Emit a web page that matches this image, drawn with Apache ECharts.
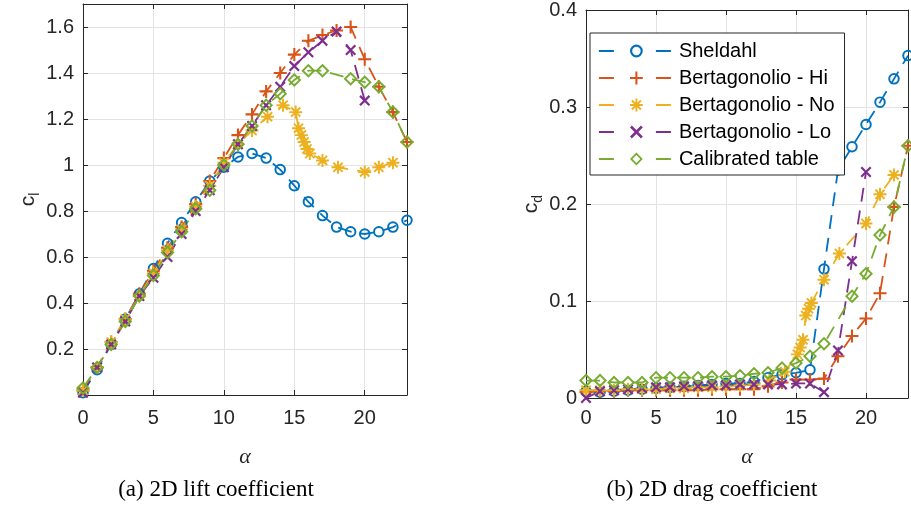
<!DOCTYPE html>
<html>
<head>
<meta charset="utf-8">
<script src="https://cdn.jsdelivr.net/npm/echarts@6/dist/echarts.min.js"></script>
<style>html,body{margin:0;padding:0;background:#fff;}#c{width:911px;height:508px;}</style>
</head>
<body>
<div id="c"></div>
<script>
// ---- data ----
const seriesNames = ['Sheldahl', 'Bertagonolio - Hi', 'Bertagonolio - No', 'Bertagonolio - Lo', 'Calibrated table'];
const alphaFull = [0,1,2,3,4,5,6,7,8,9,10,11,12,13,14,15,16,17,18,19,20,21,22,23];
const alphaLo = [0,1,2,3,4,5,6,7,8,9,10,11,12,13,14,15,16,17,18,19,20];
const alphaNo = [0,1,2,3,4,5,6,7,8,9,10,11,12,13.1,14.2,15.1,15.3,15.5,15.7,15.9,16.1,17,18.1,20,21,22];
const alphaCal = [0,1,2,3,4,5,6,7,8,9,10,11,12,13,14,15,16,17,19,20,21,22,23];

const clSheldahl = [0.01,0.11,0.22,0.33,0.44,0.55,0.66,0.75,0.84,0.93,0.99,1.035,1.05,1.03,0.98,0.91,0.84,0.78,0.73,0.71,0.70,0.71,0.73,0.76];
const clHi = [0.02,0.12,0.23,0.33,0.44,0.54,0.64,0.73,0.83,0.93,1.03,1.13,1.22,1.32,1.40,1.48,1.54,1.565,1.585,1.60,1.46,1.34,1.23,1.10];
const clNo = [0.02,0.12,0.23,0.33,0.43,0.53,0.63,0.72,0.82,0.91,1.01,1.09,1.15,1.21,1.26,1.23,1.16,1.13,1.10,1.07,1.05,1.02,0.99,0.97,0.99,1.01];
const clLo = [0.01,0.12,0.22,0.32,0.43,0.51,0.60,0.70,0.80,0.89,0.99,1.09,1.17,1.26,1.34,1.43,1.49,1.54,1.58,1.50,1.28];
const clCal = [0.03,0.12,0.22,0.32,0.43,0.52,0.62,0.71,0.81,0.89,1.00,1.09,1.17,1.26,1.31,1.37,1.41,1.41,1.375,1.36,1.34,1.23,1.10];

const cdSheldahl = [0.007,0.006,0.007,0.008,0.009,0.010,0.011,0.012,0.013,0.014,0.015,0.015,0.017,0.021,0.024,0.026,0.029,0.133,0.235,0.259,0.282,0.305,0.329,0.353];
const cdHi = [0.006,0.007,0.007,0.008,0.008,0.008,0.008,0.008,0.008,0.009,0.009,0.009,0.009,0.012,0.016,0.019,0.019,0.020,0.043,0.064,0.082,0.108,0.197,0.260];
const cdNo = [0.008,0.008,0.008,0.009,0.009,0.009,0.010,0.010,0.011,0.011,0.012,0.013,0.014,0.018,0.027,0.045,0.052,0.060,0.085,0.092,0.098,0.122,0.149,0.180,0.210,0.230];
const cdLo = [0.000,0.007,0.008,0.009,0.010,0.011,0.011,0.012,0.012,0.013,0.013,0.014,0.014,0.014,0.014,0.015,0.015,0.006,0.049,0.141,0.233];
const cdCal = [0.018,0.018,0.016,0.016,0.016,0.021,0.021,0.021,0.021,0.022,0.022,0.023,0.025,0.026,0.031,0.036,0.043,0.056,0.105,0.128,0.168,0.197,0.260];

const xTicks = [0,5,10,15,20];
const clTicks = [0.2,0.4,0.6,0.8,1,1.2,1.4,1.6];
const cdTicks = [0,0.1,0.2,0.3,0.4];

// ---- styles ----
const colors = ['#0072BD','#D95319','#EDB120','#7E2F8E','#77AC30'];
const SYM = {
  circle: 'path://M0,10A10,10,0,1,1,20,10A10,10,0,1,1,0,10ZM3.4,10A6.6,6.6,0,1,0,16.6,10A6.6,6.6,0,1,0,3.4,10Z',
  plus: 'path://M8.4,0L11.6,0L11.6,8.4L20,8.4L20,11.6L11.6,11.6L11.6,20L8.4,20L8.4,11.6L0,11.6L0,8.4L8.4,8.4Z',
  star: 'path://M8.5,0L11.5,0L11.5,8.5L20,8.5L20,11.5L11.5,11.5L11.5,20L8.5,20L8.5,11.5L0,11.5L0,8.5L8.5,8.5Z' +
        'M4.0,1.9L18.1,16.0L16.0,18.1L1.9,4.0Z' +
        'M18.1,4.0L4.0,18.1L1.9,16.0L16.0,1.9Z',
  cross: 'path://M2.5,-0.5L20.5,17.5L17.5,20.5L-0.5,2.5ZM20.5,2.5L2.5,20.5L-0.5,17.5L17.5,-0.5Z',
  diamond: 'path://M10,0L20,10L10,20L0,10ZM10,3.9L3.9,10L10,16.1L16.1,10Z'
};
const symbols = [SYM.circle, SYM.plus, SYM.star, SYM.cross, SYM.diamond];
const symSizes = [11.5, 13, 13, 11, 14];
const axisColor = '#262626';
const gridColor = '#e3e3e3';
const tickFont = {fontFamily: 'Liberation Sans, Arial, sans-serif', fontSize: 20, color: axisColor};

function pairs(xs, ys) { return ys.map((y, i) => [xs[i], y]); }

function mkSeries(idx, xs, ys, axisIdx) {
  return {
    name: seriesNames[idx], type: 'line', xAxisIndex: axisIdx, yAxisIndex: axisIdx,
    data: pairs(xs, ys), symbol: symbols[idx], symbolSize: symSizes[idx],
    showAllSymbol: true, clip: false, animation: false, silent: true,
    lineStyle: {color: colors[idx], width: 1.8, type: [14, 9]},
    itemStyle: {color: colors[idx], borderWidth: 0},
    emphasis: {disabled: true}
  };
}

function mainX(gi, margin, nameGap) {
  return {
    type: 'value', gridIndex: gi, min: 0, max: 23, interval: 5, position: 'bottom',
    axisLine: {show: true, onZero: false, lineStyle: {color: axisColor, width: 1}},
    axisTick: {show: true, inside: true, length: 5, lineStyle: {color: axisColor}},
    splitLine: {show: true, lineStyle: {color: gridColor, width: 1}},
    axisLabel: Object.assign({margin: margin, formatter: v => xTicks.indexOf(v) >= 0 ? String(v) : ''}, tickFont),
    name: 'α', nameLocation: 'middle', nameGap: nameGap,
    nameTextStyle: {fontFamily: 'Liberation Serif, DejaVu Serif, serif', fontStyle: 'italic', fontSize: 22, color: axisColor}
  };
}
function topX(gi) {
  return {
    type: 'value', gridIndex: gi, min: 0, max: 23, interval: 5, position: 'top',
    axisLine: {show: true, onZero: false, lineStyle: {color: axisColor, width: 1}},
    axisTick: {show: true, inside: true, length: 5, lineStyle: {color: axisColor}},
    splitLine: {show: false}, axisLabel: {show: false}
  };
}
function sideY(gi, max, interval) {
  return {
    type: 'value', gridIndex: gi, min: 0, max: max, interval: interval, position: 'right',
    axisLine: {show: true, onZero: false, lineStyle: {color: axisColor, width: 1}},
    axisTick: {show: true, inside: true, length: 5, lineStyle: {color: axisColor}},
    splitLine: {show: false}, axisLabel: {show: false}
  };
}
function isTick(v, list) { return list.some(t => Math.abs(t - v) < 1e-6); }
const nameRich = {
  c: {fontFamily: 'Liberation Sans, Arial, sans-serif', fontSize: 21, color: axisColor, lineHeight: 28, verticalAlign: 'middle'},
  s: {fontFamily: 'Liberation Sans, Arial, sans-serif', fontSize: 14, color: axisColor, lineHeight: 28, verticalAlign: 'bottom'}
};

const option = {
  backgroundColor: '#fff',
  animation: false,
  grid: [
    {left: 83, top: 4, width: 324, height: 391},
    {left: 586, top: 6, width: 324, height: 392}
  ],
  xAxis: [mainX(0, 13, 51), topX(0), mainX(1, 10, 48), topX(1)],
  yAxis: [
    {
      type: 'value', gridIndex: 0, min: 0, max: 1.7, interval: 0.2, position: 'left',
      axisLine: {show: true, onZero: false, lineStyle: {color: axisColor, width: 1}},
      axisTick: {show: true, inside: true, length: 5, lineStyle: {color: axisColor}},
      splitLine: {show: true, lineStyle: {color: gridColor, width: 1}},
      axisLabel: Object.assign({margin: 9, formatter: v => isTick(v, clTicks) ? String(+v.toFixed(1)) : ''}, tickFont),
      name: '{c|c}{s|l}', nameLocation: 'middle', nameGap: 27,
      nameTextStyle: {rich: nameRich}
    },
    sideY(0, 1.7, 0.2),
    {
      type: 'value', gridIndex: 1, min: 0, max: 0.4, interval: 0.1, position: 'left',
      axisLine: {show: true, onZero: false, lineStyle: {color: axisColor, width: 1}},
      axisTick: {show: true, inside: true, length: 5, lineStyle: {color: axisColor}},
      splitLine: {show: true, lineStyle: {color: gridColor, width: 1}},
      axisLabel: Object.assign({margin: 9, formatter: v => isTick(v, cdTicks) ? String(+v.toFixed(1)) : ''}, tickFont),
      name: '{c|c}{s|d}', nameLocation: 'middle', nameGap: 25,
      nameTextStyle: {rich: nameRich}
    },
    sideY(1, 0.4, 0.1)
  ],
  legend: {
    show: true, left: 590, top: 33, orient: 'vertical',
    data: seriesNames,
    itemWidth: 75, itemHeight: 16, itemGap: 7,
    padding: [8, 10, 6, 8],
    backgroundColor: '#fff', borderColor: axisColor, borderWidth: 1, borderRadius: 0,
    selectedMode: false,
    lineStyle: {type: [15, 42], width: 1.8},
    textStyle: {fontFamily: 'Liberation Sans, Arial, sans-serif', fontSize: 20, color: '#000', lineHeight: 20}
  },
  series: [
    mkSeries(0, alphaFull, clSheldahl, 0),
    mkSeries(1, alphaFull, clHi, 0),
    mkSeries(2, alphaNo, clNo, 0),
    mkSeries(3, alphaLo, clLo, 0),
    mkSeries(4, alphaCal, clCal, 0),
    mkSeries(0, alphaFull, cdSheldahl, 2),
    mkSeries(1, alphaFull, cdHi, 2),
    mkSeries(2, alphaNo, cdNo, 2),
    mkSeries(3, alphaLo, cdLo, 2),
    mkSeries(4, alphaCal, cdCal, 2)
  ],
  graphic: [
    {type: 'text', x: 216, y: 490, style: {text: '(a) 2D lift coefficient', fontFamily: 'Liberation Serif, DejaVu Serif, serif', fontSize: 23, fill: '#000', align: 'center', verticalAlign: 'middle'}},
    {type: 'text', x: 712, y: 490, style: {text: '(b) 2D drag coefficient', fontFamily: 'Liberation Serif, DejaVu Serif, serif', fontSize: 23, fill: '#000', align: 'center', verticalAlign: 'middle'}}
  ]
};

const chart = echarts.init(document.getElementById('c'), null, {renderer: 'canvas'});
chart.setOption(option);
</script>
</body>
</html>
